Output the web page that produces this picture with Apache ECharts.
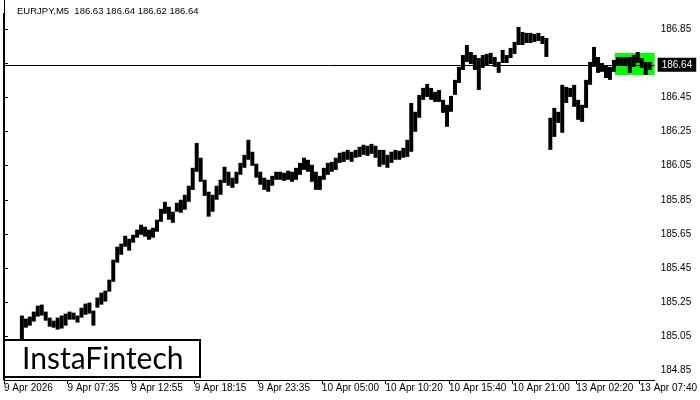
<!DOCTYPE html>
<html><head><meta charset="utf-8">
<script src="https://cdn.jsdelivr.net/npm/echarts@6/dist/echarts.min.js"></script>
<style>html,body{margin:0;padding:0;background:#fff}#c{width:700px;height:400px}</style>
</head><body><div id="c"></div>
<script>
// x tick labels (every 16 columns; one column = 4 five-minute bars)
const tickLabels = ['9 Apr 2026','9 Apr 07:35','9 Apr 12:55','9 Apr 18:15','9 Apr 23:35','10 Apr 05:00','10 Apr 10:20','10 Apr 15:40','10 Apr 21:00','13 Apr 02:20','13 Apr 07:40'];
const tickIndex = [0,16,32,48,64,80,96,112,128,144,160];
// price tick labels
const priceTicks = [184.85,185.05,185.25,185.45,185.65,185.85,186.05,186.25,186.45,186.65,186.85];
// column highs / lows
const highs = [184.973,184.996,185.008,185.020,185.172,185.154,185.166,185.195,185.230,185.236,
185.195,185.160,185.142,185.160,185.172,185.183,185.195,185.189,185.172,185.218,
185.242,185.248,185.201,185.277,185.306,185.318,185.382,185.499,185.575,185.593,
185.639,185.622,185.645,185.675,185.704,185.692,185.675,185.686,185.733,185.797,
185.838,185.809,185.780,185.832,185.850,185.879,185.932,186.037,186.183,186.096,
185.967,185.897,185.879,185.932,185.967,186.043,186.014,185.979,186.014,186.066,
186.113,186.201,186.131,186.061,186.014,185.979,185.967,185.990,186.014,186.014,
186.008,186.020,186.014,186.037,186.066,186.096,186.084,186.055,186.014,185.990,
186.037,186.066,186.072,186.096,186.125,186.131,186.142,186.131,186.142,186.160,
186.172,186.166,186.177,186.166,186.142,186.142,186.113,186.131,186.142,186.137,
186.154,186.201,186.417,186.365,186.464,186.505,186.528,186.505,186.482,186.493,
186.435,186.406,186.458,186.552,186.628,186.698,186.756,186.715,186.698,186.680,
186.698,186.704,186.710,186.686,186.657,186.727,186.698,186.739,186.774,186.862,
186.832,186.827,186.827,186.821,186.827,186.809,186.797,186.330,186.388,186.365,
186.523,186.511,186.505,186.523,186.435,186.406,186.552,186.657,186.745,186.686,
186.651,186.639,186.628,186.669,186.686,186.686,186.686,186.686,186.698,186.715,
186.680,186.657,186.657];
const lows = [184.903,184.926,184.938,184.961,185.020,185.101,185.113,185.137,185.166,185.172,
185.142,185.107,185.101,185.090,185.096,185.113,185.148,185.148,185.131,185.160,
185.177,185.183,185.113,185.218,185.236,185.254,185.312,185.370,185.482,185.528,
185.575,185.552,185.599,185.628,185.645,185.634,185.616,185.628,185.663,185.721,
185.768,185.733,185.715,185.780,185.774,185.792,185.838,185.908,186.014,185.955,
185.873,185.751,185.780,185.850,185.879,185.949,185.932,185.920,185.944,185.996,
186.037,186.084,186.049,185.979,185.938,185.908,185.897,185.932,185.967,185.967,
185.961,185.967,185.955,185.967,185.996,186.025,186.014,185.955,185.908,185.908,
185.967,185.996,186.014,186.025,186.066,186.072,186.084,186.072,186.096,186.101,
186.113,186.107,186.119,186.096,186.043,186.055,186.037,186.066,186.084,186.084,
186.096,186.101,186.131,186.248,186.330,186.435,186.452,186.435,186.423,186.423,
186.359,186.277,186.365,186.464,186.534,186.610,186.657,186.645,186.610,186.493,
186.622,186.634,186.645,186.628,186.593,186.651,186.651,186.680,186.704,186.756,
186.756,186.768,186.768,186.774,186.780,186.762,186.686,186.142,186.218,186.300,
186.242,186.417,186.452,186.394,186.318,186.306,186.388,186.523,186.628,186.593,
186.599,186.563,186.552,186.599,186.634,186.639,186.634,186.593,186.628,186.651,
186.622,186.581,186.610];
const lastPrice = 186.64;
const patternBox = {x0: 153.75, x1: 163.75, top: 186.71, bottom: 186.58};

const chart = echarts.init(document.getElementById('c'));
const FONT = 'Liberation Sans';
chart.setOption({
  animation: false,
  backgroundColor: '#fff',
  title: {text: 'EURJPY,M5  186.63 186.64 186.62 186.64', left: 17, top: 6, padding: 0,
    textStyle: {fontSize: 9.5, fontWeight: 'normal', color: '#000', fontFamily: FONT}},
  grid: {left: 4, right: 41, top: 0, bottom: 20, show: false},
  xAxis: {type: 'value', min: 0, max: 163.75,
    axisLine: {show: true, onZero: false, lineStyle: {color: '#000'}},
    splitLine: {show: false},
    axisTick: {show: true, length: 4, lineStyle: {color: '#000'}, customValues: tickIndex},
    axisLabel: {customValues: tickIndex, align: 'left', margin: 3, color: '#000', fontSize: 10, fontFamily: FONT,
      formatter: v => tickLabels[tickIndex.indexOf(Math.round(v))] || ''}},
  yAxis: {type: 'value', position: 'right', min: 184.7947, max: 187.0196, scale: true,
    axisLine: {show: true, lineStyle: {color: '#000'}},
    splitLine: {show: false},
    axisTick: {show: true, length: 4, lineStyle: {color: '#000'}, customValues: priceTicks},
    axisLabel: {customValues: priceTicks, margin: 6, color: '#000', fontSize: 10, fontFamily: FONT,
      formatter: v => v.toFixed(2)}},
  series: [{
    type: 'custom', z: 1,
    data: [],
    renderItem: () => null,
    markArea: {silent: true, itemStyle: {color: '#00ff00', opacity: 1},
      data: [[{xAxis: patternBox.x0, yAxis: patternBox.top}, {xAxis: patternBox.x1, yAxis: patternBox.bottom}]]}
  }, {
    type: 'custom', z: 3,
    data: highs.map((h, i) => [i, h, lows[i]]),
    encode: {x: 0, y: [1, 2]},
    renderItem: (params, api) => {
      const i = api.value(0);
      const a = api.coord([i, api.value(1)]);
      const b = api.coord([i + 1, api.value(2)]);
      return {type: 'rect', shape: {x: a[0], y: a[1], width: b[0] - a[0], height: Math.max(1, b[1] - a[1])},
        style: {fill: '#000'}};
    },
    markLine: {silent: true, symbol: 'none', animation: false,
      lineStyle: {color: '#000', width: 1, type: 'solid'},
      label: {show: true, position: 'end', distance: 3, formatter: () => lastPrice.toFixed(2),
        backgroundColor: '#000', color: '#fff', fontSize: 10, fontFamily: FONT, padding: [2, 4, 2, 4]},
      data: [{yAxis: lastPrice}]}
  }],
  graphic: [
    {type: 'line', z: 50, shape: {x1: 3.5, y1: 13, x2: 3.5, y2: 380}, style: {stroke: '#000', lineWidth: 1}},
    {type: 'rect', z: 100, zlevel: 1, shape: {x: 4, y: 340, width: 196, height: 37}, style: {fill: '#fff', stroke: '#000', lineWidth: 2}},
    {type: 'text', z: 101, zlevel: 1, x: 22, y: 359, style: {text: 'InstaFintech', font: '30px Lato', fill: '#000', textVerticalAlign: 'middle'}}
  ]
});
</script></body></html>
